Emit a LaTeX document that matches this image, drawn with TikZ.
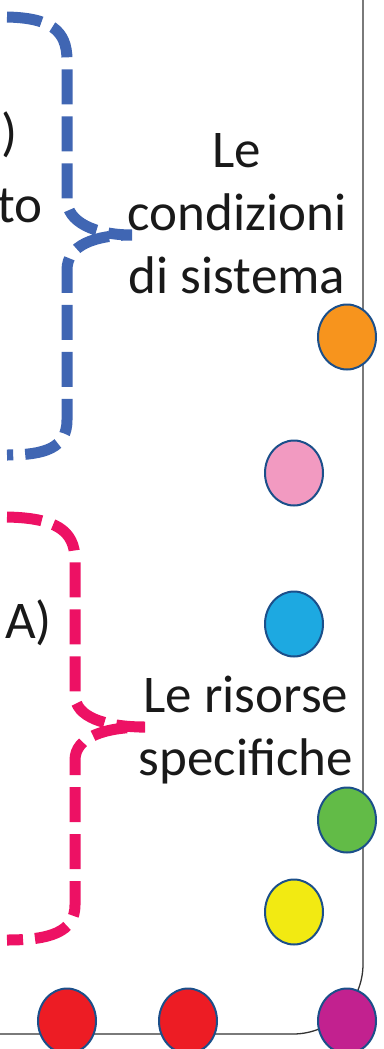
\documentclass[tikz,border=0pt]{standalone}
\usepackage{fontspec}
\setmainfont{Carlito}
\usepackage{tikz}
\usetikzlibrary{shapes.geometric}

\definecolor{bracketblue}{HTML}{4066B3}
\definecolor{bracketpink}{HTML}{ED1164}
\definecolor{dotline}{HTML}{1B4F8A}
\definecolor{frameline}{HTML}{333333}
\definecolor{dotorange}{HTML}{F7941D}
\definecolor{dotpink}{HTML}{F29AC1}
\definecolor{dotblue}{HTML}{1DA9E1}
\definecolor{dotgreen}{HTML}{62BB47}
\definecolor{dotyellow}{HTML}{F2EA12}
\definecolor{dotred}{HTML}{ED1C24}
\definecolor{dotmagenta}{HTML}{C2218F}

\begin{document}
\begin{tikzpicture}[x=1pt, y=-1pt,
  dot/.style={ellipse, draw=dotline, line width=2pt, minimum width=58pt,
    minimum height=65pt, inner sep=0pt},
  brace/.style={line width=11pt, dash pattern=on 35pt off 12pt},
  label/.style={font=\fontsize{53}{63}\selectfont, text=black!90,
    align=center, inner sep=0pt}]
    \useasboundingbox (0,0) rectangle (383,1049);
    \clip (0,0) rectangle (383,1049);
    % frame
    \draw[frameline, line width=1.3pt, rounded corners=70pt]
        (363,-20) -- (363,1034) -- (-20,1034);
    % braces
    \draw[brace, bracketblue] (7,17) .. controls (50,18) and (67,30) .. (67,60)
        -- (67,200) .. controls (67,222) and (95,235) .. (132,235)
        .. controls (95,235) and (67,245) .. (67,270)
        -- (67,420) .. controls (67,448) and (45,455) .. (7,455);
    \draw[brace, bracketpink] (7,517) .. controls (55,518) and (75,530) .. (75,560)
        -- (75,695) .. controls (75,717) and (105,727) .. (145,727)
        .. controls (105,727) and (75,737) .. (75,760)
        -- (75,905) .. controls (75,932) and (50,940) .. (7,940);
    % texts
    \node[label, anchor=base east] (paren) at (18,150) {)};
    \node[label, anchor=base east] (tail) at (43,222) {to};
    \node[label, anchor=base east] (tailA) at (52,638) {A)};
    \node[label, anchor=base] (cond) at (237,293) {Le\\condizioni\\di sistema};
    \node[label, anchor=base] (ris) at (246,775) {Le risorse\\specifiche};
    % dots
    \node[dot, fill=dotorange] (orange) at (347,337) {};
    \node[dot, fill=dotpink] (pink) at (294,473) {};
    \node[dot, fill=dotblue] (blue) at (294,624) {};
    \node[dot, fill=dotgreen] (green) at (347,820) {};
    \node[dot, fill=dotyellow] (yellow) at (294,912) {};
    \node[dot, fill=dotred] (redA) at (67,1021) {};
    \node[dot, fill=dotred] (redB) at (188,1021) {};
    \node[dot, fill=dotmagenta] (magenta) at (347,1021) {};
\end{tikzpicture}
\end{document}
